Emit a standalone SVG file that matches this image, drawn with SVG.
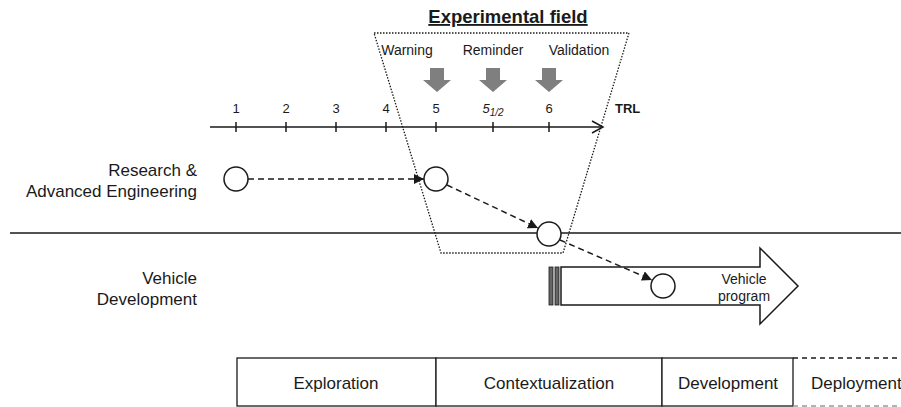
<svg xmlns="http://www.w3.org/2000/svg" width="901" height="407" viewBox="0 0 901 407">
<defs>
<style>
text{font-family:"Liberation Sans",Arial,sans-serif;fill:#1a1a1a}
.lbl{font-size:17px;text-anchor:end}
.num{font-size:13px;text-anchor:middle}
.sm{font-size:14px;text-anchor:middle}
.ph{font-size:17px;text-anchor:middle}
.node{fill:#fff;stroke:#1a1a1a;stroke-width:1.5}
.dash{fill:none;stroke:#1a1a1a;stroke-width:1.5;stroke-dasharray:6,4}
.cell{fill:#fff;stroke:#1a1a1a;stroke-width:1.3}
.gray{fill:#7f7f7f}
</style>
<marker id="tri" viewBox="0 0 10 10" refX="10" refY="5" markerWidth="10" markerHeight="10" markerUnits="userSpaceOnUse" orient="auto">
<path d="M0,0 L10,5 L0,10 Z" fill="#1a1a1a"/>
</marker>
</defs>
<rect width="901" height="407" fill="#fff"/>

<g id="field">
<text x="508" y="23" font-size="18.5" font-weight="bold" text-anchor="middle" text-decoration="underline">Experimental field</text>
<polygon points="374,33 629,33 563,253 441,253" fill="none" stroke="#1a1a1a" stroke-width="1.3" stroke-dasharray="1.5,1.5"/>
<text x="407" y="55" class="sm">Warning</text>
<text x="493" y="55" class="sm">Reminder</text>
<text x="579" y="55" class="sm">Validation</text>
<path class="gray" d="M430,68 h14 v12 h7 l-14,12 l-14,-12 h7 z"/>
<path class="gray" d="M486,68 h14 v12 h7 l-14,12 l-14,-12 h7 z"/>
<path class="gray" d="M542,68 h14 v12 h7 l-14,12 l-14,-12 h7 z"/>
</g>

<g id="axis">
<line x1="210" y1="127" x2="602" y2="127" stroke="#1a1a1a" stroke-width="1.5"/>
<polyline points="592,121 603,127 592,133" fill="none" stroke="#1a1a1a" stroke-width="1.5"/>
<g stroke="#1a1a1a" stroke-width="1.5">
<line x1="236" y1="122" x2="236" y2="132"/>
<line x1="286" y1="122" x2="286" y2="132"/>
<line x1="336" y1="122" x2="336" y2="132"/>
<line x1="386" y1="122" x2="386" y2="132"/>
<line x1="436" y1="122" x2="436" y2="132"/>
<line x1="493" y1="122" x2="493" y2="132"/>
<line x1="549" y1="122" x2="549" y2="132"/>
</g>
<text x="236" y="113" class="num">1</text>
<text x="286" y="113" class="num">2</text>
<text x="336" y="113" class="num">3</text>
<text x="386" y="113" class="num">4</text>
<text x="436" y="113" class="num">5</text>
<text x="493" y="113" class="num" font-style="italic">5<tspan font-size="10" dy="3">1/2</tspan></text>
<text x="549" y="113" class="num">6</text>
<text x="615" y="113" font-size="13" font-weight="bold">TRL</text>
</g>

<g id="lanes">
<line x1="10" y1="233" x2="901" y2="233" stroke="#1a1a1a" stroke-width="1.5"/>
<text x="197" y="176" class="lbl">Research &amp;</text>
<text x="197" y="197" class="lbl">Advanced Engineering</text>
<text x="197" y="284" class="lbl">Vehicle</text>
<text x="197" y="305" class="lbl">Development</text>
</g>

<g id="vehicle-program">
<rect x="549" y="267" width="4" height="38" fill="#666" stroke="#1a1a1a" stroke-width="0.8"/>
<rect x="555" y="267" width="4" height="38" fill="#666" stroke="#1a1a1a" stroke-width="0.8"/>
<polygon points="561,267 760,267 760,248 798,286 760,324 760,305 561,305" fill="#fff" stroke="#1a1a1a" stroke-width="1.5"/>
<text x="744" y="284" class="sm">Vehicle</text>
<text x="744" y="301" class="sm">program</text>
</g>

<g id="connectors">
<line class="dash" x1="248" y1="179" x2="424" y2="179" marker-end="url(#tri)"/>
<line class="dash" x1="447" y1="185" x2="538" y2="228" marker-end="url(#tri)"/>
<line class="dash" x1="560" y1="240" x2="652" y2="280" marker-end="url(#tri)"/>
</g>

<g id="n1"><circle class="node" cx="236" cy="179" r="12"/></g>
<g id="n2"><circle class="node" cx="436" cy="179" r="12"/></g>
<g id="n3"><circle class="node" cx="549" cy="234" r="12"/></g>
<g id="n4"><circle class="node" cx="663" cy="286" r="12"/></g>

<g id="phases">
<rect class="cell" x="237" y="358" width="199" height="48"/>
<rect class="cell" x="436" y="358" width="226" height="48"/>
<rect class="cell" x="662" y="358" width="131" height="48"/>
<line x1="793" y1="358" x2="901" y2="358" stroke="#1a1a1a" stroke-width="1.3" stroke-dasharray="5,4"/>
<line x1="793" y1="406" x2="901" y2="406" stroke="#999" stroke-width="1.3" stroke-dasharray="5,4"/>
<text x="336" y="389" class="ph">Exploration</text>
<text x="549" y="389" class="ph">Contextualization</text>
<text x="728" y="389" class="ph">Development</text>
<text x="811" y="389" font-size="17">Deployment</text>
</g>
</svg>
